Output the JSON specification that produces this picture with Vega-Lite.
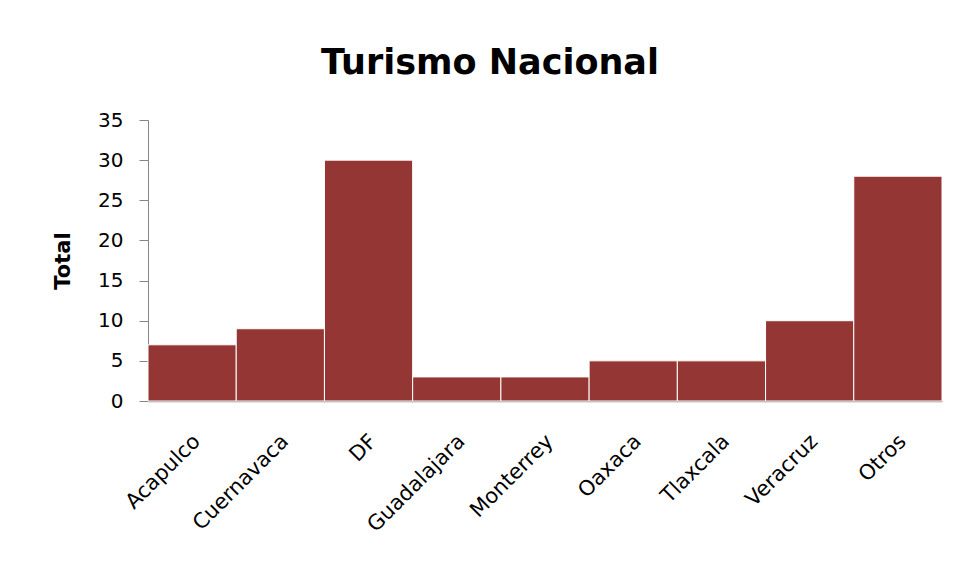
{
  "$schema": "https://vega.github.io/schema/vega-lite/v6.json",
  "autosize": {"type": "none"},
  "width": 794,
  "height": 281,
  "padding": {"left": 148, "top": 120, "right": 17, "bottom": 168},
  "background": "white",
  "title": {
    "text": "Turismo Nacional",
    "font": "DejaVu Sans",
    "fontSize": 35,
    "fontWeight": "bold",
    "color": "black",
    "anchor": "middle",
    "dx": -55,
    "offset": 29
  },
  "data": {
    "values": [
      {"ciudad": "Acapulco", "total": 7},
      {"ciudad": "Cuernavaca", "total": 9},
      {"ciudad": "DF", "total": 30},
      {"ciudad": "Guadalajara", "total": 3},
      {"ciudad": "Monterrey", "total": 3},
      {"ciudad": "Oaxaca", "total": 5},
      {"ciudad": "Tlaxcala", "total": 5},
      {"ciudad": "Veracruz", "total": 10},
      {"ciudad": "Otros", "total": 28}
    ]
  },
  "mark": {"type": "bar", "color": "#943634", "stroke": "white", "strokeWidth": 1},
  "encoding": {
    "x": {
      "field": "ciudad",
      "type": "nominal",
      "sort": null,
      "scale": {"paddingInner": 0, "paddingOuter": 0},
      "axis": {
        "title": null,
        "labelAngle": -45,
        "labelAlign": "right",
        "labelBaseline": "middle",
        "labelFont": "DejaVu Sans",
        "labelFontSize": 21,
        "labelColor": "black",
        "labelPadding": 37,
        "labelOffset": 5,
        "ticks": false,
        "domainColor": "#868686",
        "domainWidth": 1.5
      }
    },
    "y": {
      "field": "total",
      "type": "quantitative",
      "scale": {"domain": [0, 35]},
      "axis": {
        "title": "Total",
        "titleFont": "DejaVu Sans",
        "titleFontSize": 21,
        "titleFontWeight": "bold",
        "titleColor": "black",
        "titlePadding": 24,
        "values": [0, 5, 10, 15, 20, 25, 30, 35],
        "labelFont": "DejaVu Sans",
        "labelFontSize": 20,
        "labelColor": "black",
        "labelPadding": 16,
        "tickSize": 9,
        "tickColor": "#868686",
        "domainColor": "#868686",
        "grid": false
      }
    }
  },
  "config": {"view": {"stroke": null}}
}
